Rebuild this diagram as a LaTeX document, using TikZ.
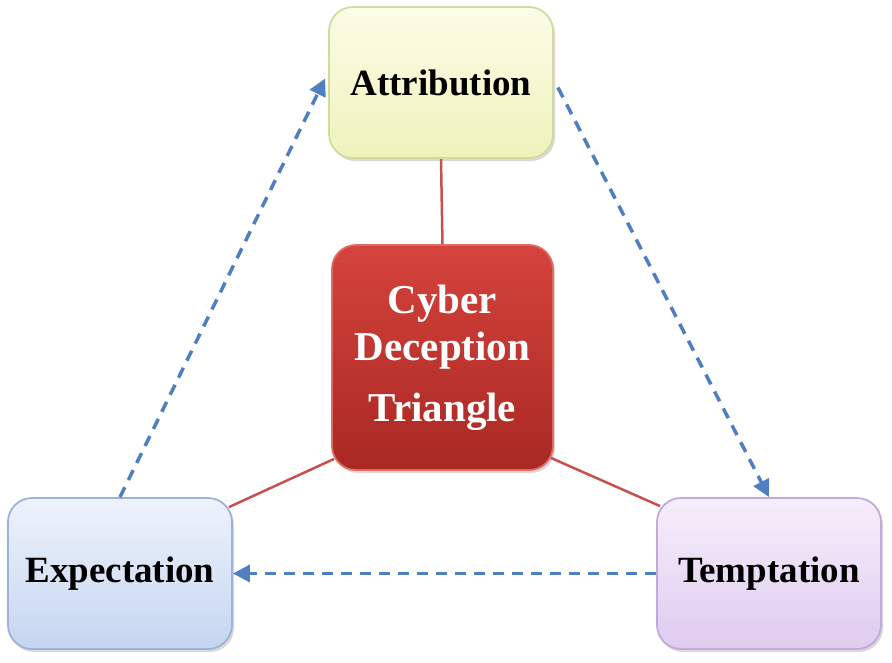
\documentclass[tikz,border=0pt]{standalone}
\usepackage{fontspec}
\setmainfont{Liberation Serif}
\usetikzlibrary{shadows,backgrounds,arrows.meta}
\definecolor{arrowblue}{HTML}{4F7FC0}
\definecolor{linered}{HTML}{C8504C}
\definecolor{yelTop}{HTML}{FBFCE6}
\definecolor{yelBot}{HTML}{EEF3BC}
\definecolor{yelBorder}{HTML}{D2DB9C}
\definecolor{bluTop}{HTML}{EEF3FC}
\definecolor{bluBot}{HTML}{C5D5F0}
\definecolor{bluBorder}{HTML}{9DB2D8}
\definecolor{purTop}{HTML}{F6EEFB}
\definecolor{purBot}{HTML}{DFCBEF}
\definecolor{purBorder}{HTML}{C2A9DA}
\definecolor{redTop}{HTML}{D5433D}
\definecolor{redBot}{HTML}{A92823}
\definecolor{redBorder}{HTML}{E06A64}
\tikzset{
  box/.style={rounded corners=24pt, line width=1.8pt, minimum width=224pt, minimum height=151pt,
    align=center, font=\fontsize{37}{40}\selectfont\bfseries, inner sep=0pt,
    drop shadow={opacity=0.3, shadow xshift=2pt, shadow yshift=-3pt}},
  yelbox/.style={box, draw=yelBorder, top color=yelTop, bottom color=yelBot},
  blubox/.style={box, draw=bluBorder, top color=bluTop, bottom color=bluBot},
  purbox/.style={box, draw=purBorder, top color=purTop, bottom color=purBot},
  redbox/.style={box, draw=redBorder, top color=redTop, bottom color=redBot, text=white,
    minimum width=221pt, minimum height=225pt, font=\fontsize{41}{47}\selectfont\bfseries},
  dasharrow/.style={draw=arrowblue, line width=3.5pt, dash pattern=on 11pt off 8pt,
    -{Triangle[length=17pt,width=17pt]}},
  redline/.style={draw=linered, line width=2.5pt},
}
\begin{document}
\begin{tikzpicture}[x=1pt,y=-1pt]
\useasboundingbox (0,0) rectangle (892,662);
\node[yelbox] (attr) at (441,82.5) {Attribution};
\node[redbox] (ctr) at (442.5,357.5) {Cyber\\Deception\\[14pt]Triangle};
\node[blubox] (exp) at (120,573.5) {Expectation};
\node[purbox] (temp) at (769,573.5) {Temptation};
\begin{scope}[on background layer]
\draw[redline] (attr.south) -- (ctr.north);
\draw[redline] ([shift={(3,-12)}]ctr.south west) -- ([shift={(-4,10)}]exp.north east);
\draw[redline] ([shift={(-3,-13)}]ctr.south east) -- ([shift={(4,9)}]temp.north west);
\end{scope}
\draw[dasharrow] (exp.north) -- ([shift={(-3,-4)}]attr.west);
\draw[dasharrow] ([shift={(4,5)}]attr.east) -- (temp.north);
\draw[dasharrow] (temp.west) -- (exp.east);
\end{tikzpicture}
\end{document}
